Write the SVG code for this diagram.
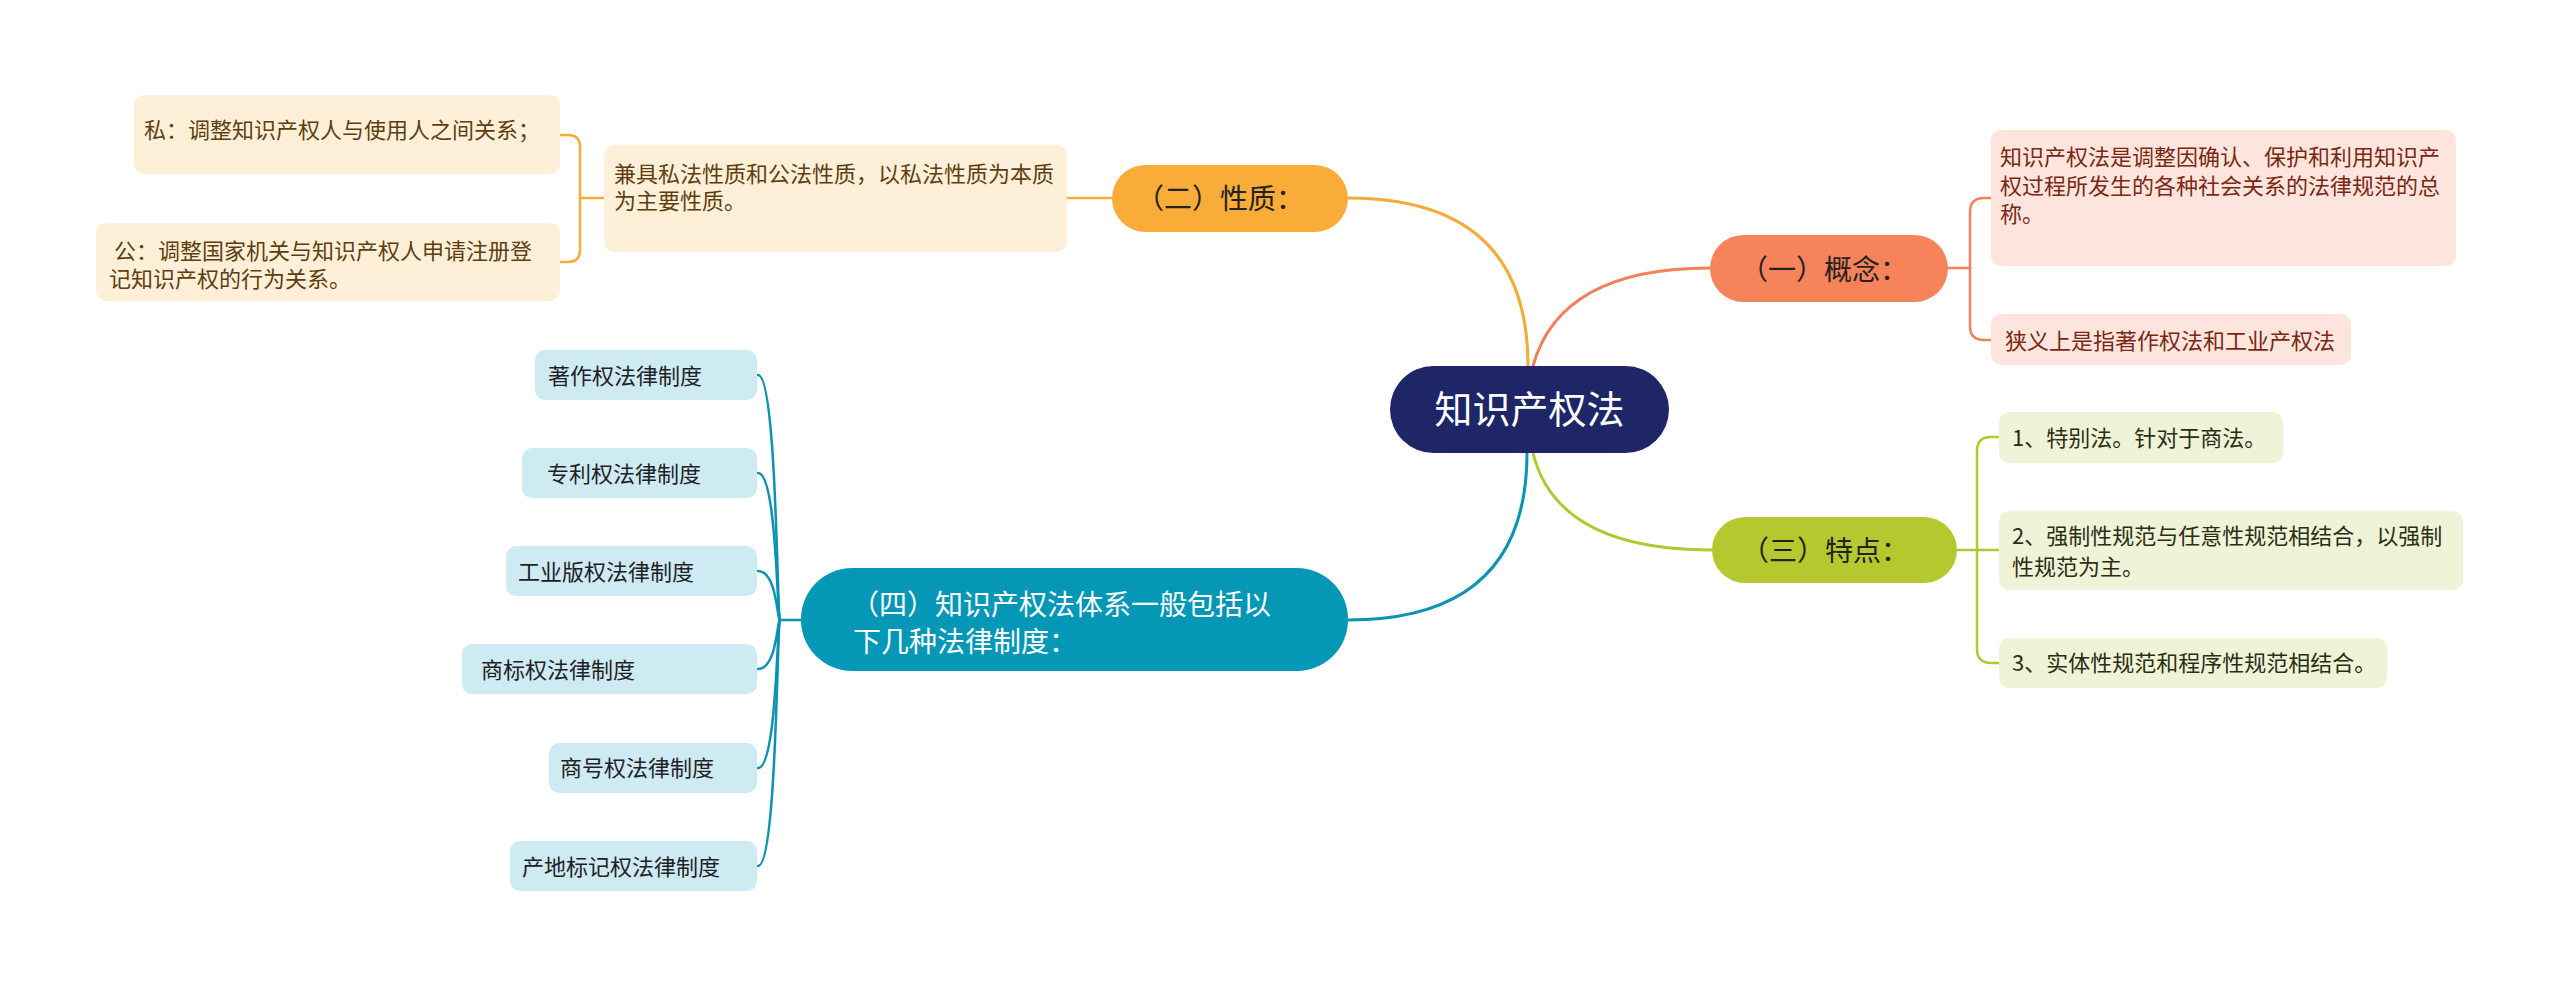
<svg xmlns="http://www.w3.org/2000/svg" width="2560" height="987" viewBox="0 0 2560 987">
<style>
text{font-family:"Noto Sans CJK SC","Noto Sans",sans-serif;}
.c{fill:none;stroke-linecap:round;stroke-linejoin:round;}
.main{stroke-width:3;}
.sub{stroke-width:2.5;}
.t22{font-size:22px;}
.t26{font-size:28px;}
.or{stroke:#F5AA3A;}
.co{stroke:#F28058;}
.gr{stroke:#B3C731;}
.te{stroke:#0B93B2;}
.bor{fill:#FEF0D8;}
.bco{fill:#FDE5DE;}
.bgr{fill:#EFF3D7;}
.bte{fill:#CEEAF2;}
.tor{fill:#5E3E10;}
.tco{fill:#7A2812;}
.tgr{fill:#2B2E12;}
.tte{fill:#1E2226;}
</style>
<rect width="2560" height="987" fill="#FFFFFF"/>
<g id="connectors">
  <path class="c main or" d="M 1528 366 Q 1528 198 1348 198"/>
  <path class="c main co" d="M 1533 366 Q 1560 268 1710 268"/>
  <path class="c main gr" d="M 1533 453 Q 1557 550 1712 550"/>
  <path class="c main te" d="M 1527 453 Q 1527 620 1348 620"/>
  <path class="c sub or" d="M 1112 198 H 1067"/>
  <path class="c sub or" d="M 604 198 H 580 V 147 Q 580 135 568 135 H 561"/>
  <path class="c sub or" d="M 580 198 V 250 Q 580 262 568 262 H 561"/>
  <path class="c sub co" d="M 1948 268 H 1970 V 212 Q 1970 198 1984 198 H 1991"/>
  <path class="c sub co" d="M 1970 268 V 326 Q 1970 340 1984 340 H 1991"/>
  <path class="c sub gr" d="M 1957 550 H 1999"/>
  <path class="c sub gr" d="M 1977 550 V 451 Q 1977 437 1991 437 H 1999"/>
  <path class="c sub gr" d="M 1977 550 V 649 Q 1977 663 1991 663 H 1999"/>
  <path class="c sub te" d="M 801 620 H 780"/>
  <path class="c sub te" d="M 780 620 C 777 620 777 375 758 375"/>
  <path class="c sub te" d="M 780 620 C 777 620 777 473 758 473"/>
  <path class="c sub te" d="M 780 620 C 777 620 777 571 758 571"/>
  <path class="c sub te" d="M 780 620 C 777 620 777 669 758 669"/>
  <path class="c sub te" d="M 780 620 C 777 620 777 768 758 768"/>
  <path class="c sub te" d="M 780 620 C 777 620 777 866 758 866"/>
</g>
<g id="root">
  <rect x="1390" y="366" width="279" height="87" rx="43.5" fill="#1F2667"/>
  <text x="1529.5" y="423" font-size="38" fill="#FFFFFF" text-anchor="middle">知识产权法</text>
</g>
<g id="n1">
  <rect x="1710" y="235" width="238" height="67" rx="33.5" fill="#F7835A"/>
  <text class="t26" x="1740" y="280" fill="#222222">（一）概念：</text>
</g>
<g id="n1a">
  <rect class="bco" x="1991" y="130" width="465" height="136" rx="10"/>
  <text class="t22 tco" x="2000" y="165">知识产权法是调整因确认、保护和利用知识产</text>
  <text class="t22 tco" x="2000" y="194">权过程所发生的各种社会关系的法律规范的总</text>
  <text class="t22 tco" x="2000" y="222">称。</text>
</g>
<g id="n1b">
  <rect class="bco" x="1991" y="314" width="360" height="51" rx="10"/>
  <text class="t22 tco" x="2000" y="349" xml:space="preserve"> 狭义上是指著作权法和工业产权法</text>
</g>
<g id="n2">
  <rect x="1112" y="165" width="236" height="67" rx="33.5" fill="#F9AC38"/>
  <text class="t26" x="1136" y="209" fill="#222222">（二）性质：</text>
</g>
<g id="n2a">
  <rect class="bor" x="604" y="145" width="463" height="107" rx="10"/>
  <text class="t22 tor" x="614" y="182">兼具私法性质和公法性质，以私法性质为本质</text>
  <text class="t22 tor" x="614" y="209">为主要性质。</text>
</g>
<g id="n2a1">
  <rect class="bor" x="134" y="95" width="426" height="79" rx="10"/>
  <text class="t22 tor" x="144" y="138">私：调整知识产权人与使用人之间关系；</text>
</g>
<g id="n2a2">
  <rect class="bor" x="96" y="223" width="464" height="78" rx="10"/>
  <text class="t22 tor" x="109" y="259" xml:space="preserve"> 公：调整国家机关与知识产权人申请注册登</text>
  <text class="t22 tor" x="109" y="287">记知识产权的行为关系。</text>
</g>
<g id="n3">
  <rect x="1712" y="517" width="245" height="66" rx="33" fill="#B5C92E"/>
  <text class="t26" x="1741" y="561" fill="#222222">（三）特点：</text>
</g>
<g id="n3a">
  <rect class="bgr" x="1999" y="412" width="284" height="51" rx="10"/>
  <text class="t22 tgr" x="2012" y="446">1、特别法。针对于商法。</text>
</g>
<g id="n3b">
  <rect class="bgr" x="1999" y="511" width="464" height="79" rx="10"/>
  <text class="t22 tgr" x="2012" y="544">2、强制性规范与任意性规范相结合，以强制</text>
  <text class="t22 tgr" x="2012" y="575">性规范为主。</text>
</g>
<g id="n3c">
  <rect class="bgr" x="1999" y="638" width="388" height="50" rx="10"/>
  <text class="t22 tgr" x="2012" y="671">3、实体性规范和程序性规范相结合。</text>
</g>
<g id="n4">
  <rect x="801" y="568" width="547" height="103" rx="51" fill="#0497B6"/>
  <text class="t26" x="851" y="615" fill="#FFFFFF">（四）知识产权法体系一般包括以</text>
  <text class="t26" x="853" y="652" fill="#FFFFFF">下几种法律制度：</text>
</g>
<g id="n4a">
  <rect class="bte" x="535" y="350" width="222" height="50" rx="10"/>
  <text class="t22 tte" x="548" y="384">著作权法律制度</text>
</g>
<g id="n4b">
  <rect class="bte" x="522" y="448" width="235" height="50" rx="10"/>
  <text class="t22 tte" x="547" y="482">专利权法律制度</text>
</g>
<g id="n4c">
  <rect class="bte" x="506" y="546" width="251" height="50" rx="10"/>
  <text class="t22 tte" x="518" y="580">工业版权法律制度</text>
</g>
<g id="n4d">
  <rect class="bte" x="462" y="644" width="295" height="50" rx="10"/>
  <text class="t22 tte" x="481" y="678">商标权法律制度</text>
</g>
<g id="n4e">
  <rect class="bte" x="549" y="743" width="208" height="50" rx="10"/>
  <text class="t22 tte" x="560" y="776">商号权法律制度</text>
</g>
<g id="n4f">
  <rect class="bte" x="510" y="841" width="247" height="50" rx="10"/>
  <text class="t22 tte" x="522" y="875">产地标记权法律制度</text>
</g>
</svg>
